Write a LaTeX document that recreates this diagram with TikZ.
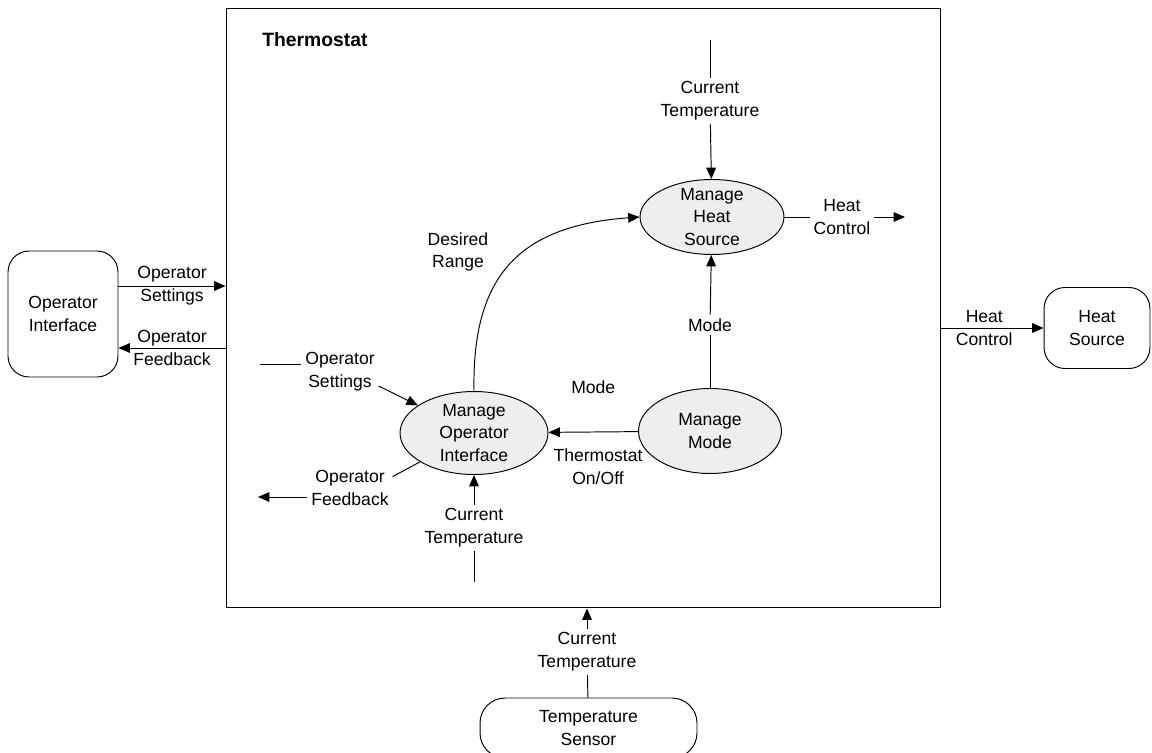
\documentclass[tikz,border=0pt]{standalone}
\usepackage{fontspec}
\setmainfont{Liberation Sans}
\usepackage{xcolor}
\usepackage{tikz}
\usetikzlibrary{shapes.geometric, arrows.meta, positioning, calc}
\definecolor{procgray}{RGB}{238, 238, 238}

\begin{document}
\begin{tikzpicture}[
    x=0.02cm, y=-0.02cm,
    font=\fontsize{10}{13}\selectfont,
    line width=0.55pt,
    >={Triangle[length=6.5pt, width=5.5pt]},
    extbox/.style={draw, rounded corners=0.42cm, align=center},
    process/.style={draw, ellipse, fill=procgray, align=center,
                    inner xsep=0pt, inner ysep=-3pt},
    flowlabel/.style={align=center, inner sep=2pt},
    flow/.style={->}
]
    \useasboundingbox (0,0) rectangle (1152,753);

    \node[draw, minimum width=14.3cm, minimum height=12cm] (thermo) at (583.5,308) {};
    \node[anchor=west, font=\fontsize{11}{13}\selectfont\bfseries] (thermotitle) at (256,40) {Thermostat};

    \node[extbox, minimum width=2.2cm, minimum height=2.52cm] (opif) at (63,314) {Operator\\Interface};
    \node[extbox, minimum width=2.12cm, minimum height=1.62cm] (hsrc) at (1097,328) {Heat\\Source};
    \node[extbox, minimum width=4.34cm, minimum height=1.2cm, rounded corners=0.5cm] (tsen) at (588.5,728) {Temperature\\Sensor};

    \node[process, minimum width=2.96cm, minimum height=1.66cm] (moi) at (474,433) {Manage\\Operator\\Interface};
    \node[process, minimum width=2.86cm, minimum height=1.7cm] (mm) at (710,431) {Manage\\Mode};
    \node[process, minimum width=2.88cm, minimum height=1.5cm] (mhs) at (712,217) {Manage\\Heat\\Source};

    \node[flowlabel] (ctl1) at (710,101) {Current\\Temperature};
    \node[flowlabel] (hcl) at (842,217) {Heat\\Control};
    \node[flowlabel] (modl) at (710,325) {Mode};
    \node[flowlabel] (drl) at (458,252) {Desired\\Range};
    \node[flowlabel] (osl) at (340,372) {Operator\\Settings};
    \node[flowlabel] (ofl) at (350,488) {Operator\\Feedback};
    \node[flowlabel] (ctl2) at (474,528) {Current\\Temperature};
    \node[flowlabel] (onoff) at (598,467) {Thermostat\\On/Off};
    \node[flowlabel] (ctl3) at (587,652) {Current\\Temperature};

    \coordinate (ctin) at (710,40);
    \coordinate (hcout) at (905,217);
    \coordinate (osin) at (260,364);
    \coordinate (ofout) at (258,497);
    \coordinate (ctin2) at (474,582);
    \coordinate (os) at ([yshift=0.56cm]opif.east);
    \coordinate (of) at ([yshift=-0.68cm]opif.east);

    \draw[flow] (os) -- (os -| thermo.west) node[flowlabel, midway] {Operator\\Settings};
    \draw[flow] (of -| thermo.west) -- (of) node[flowlabel, midway] {Operator\\Feedback};
    \draw[flow] (thermo.east |- hsrc.west) -- (hsrc.west) node[flowlabel, pos=0.42] {Heat\\Control};
    \draw (tsen) -- (ctl3);
    \draw[flow] (ctl3) -- (ctl3 |- thermo.south);

    \draw (ctin) -- (ctl1);
    \draw[flow] (ctl1) -- (mhs);
    \draw (mhs) -- (hcl);
    \draw[flow] (hcl) -- (hcout);
    \draw (mm) -- (modl);
    \draw[flow] (modl) -- (mhs);
    \draw[flow] (mm) -- (moi) node[flowlabel, midway, yshift=0.9cm] {Mode};
    \draw[flow] (moi.north) .. controls (472,280) and (515,226) .. (mhs.west);
    \draw (osin) -- (osin -| osl.west);
    \draw[flow] (osl.-20) -- (moi);
    \draw (moi) -- (ofl.15);
    \draw[flow] (ofout -| ofl.west) -- (ofout);
    \draw (ctin2) -- (ctl2);
    \draw[flow] (ctl2) -- (moi);
\end{tikzpicture}
\end{document}
